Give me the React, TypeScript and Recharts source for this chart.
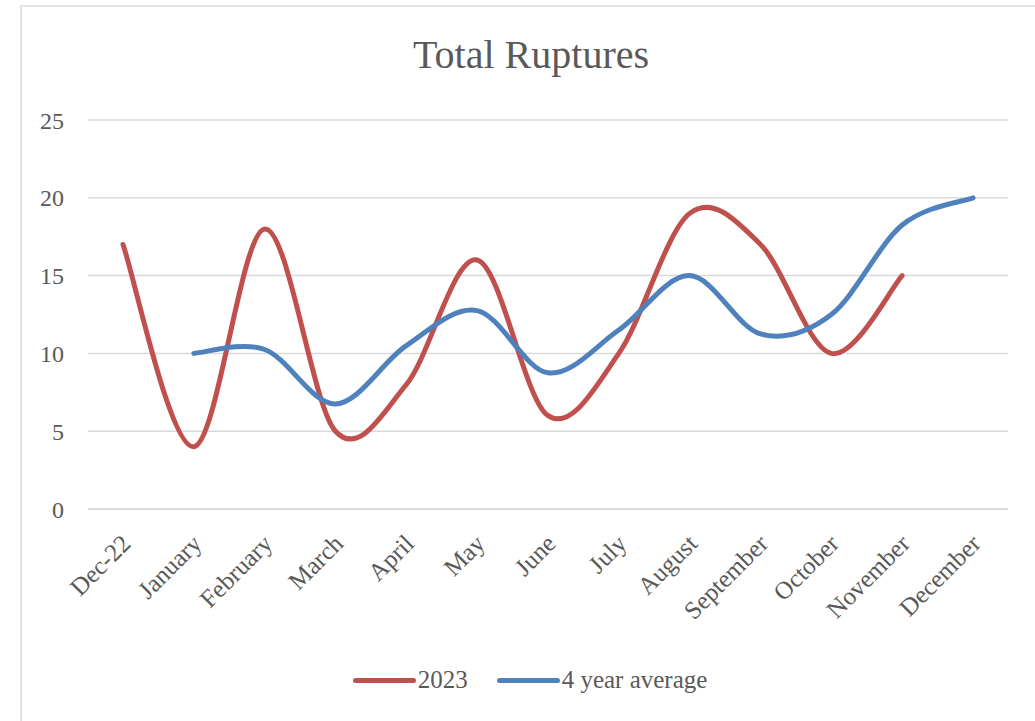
import React from 'react';
import { LineChart, Line, XAxis, YAxis, CartesianGrid, Legend } from 'recharts';

const months = ['Dec-22', 'January', 'February', 'March', 'April', 'May', 'June', 'July', 'August', 'September', 'October', 'November', 'December'];
const ruptures2023 = [17, 4, 18, 5, 8, 16, 6, 10, 19, 17, 10, 15, null];
const fourYearAvg = [null, 10, 10.25, 6.75, 10.5, 12.75, 8.75, 11.5, 15, 11.25, 12.5, 18.25, 20];
const yTicks = [0, 5, 10, 15, 20, 25];

const data = months.map((m, i) => ({ month: m, y2023: ruptures2023[i], avg: fourYearAvg[i] }));

const FONT = '"Liberation Serif", "Times New Roman", serif';
const TEXT = '#595959';
const RED = '#C0504D';
const BLUE = '#4F81BD';

// excel-style smoothing (catmull-rom bezier through the points)
const excelSmooth = (context: any) => {
    let pts: number[][] = [];
    return {
        areaStart() {},
        areaEnd() {},
        lineStart() { pts = []; },
        lineEnd() {
            const n = pts.length;
            if (!n) return;
            context.moveTo(pts[0][0], pts[0][1]);
            if (n === 1) return;
            for (let i = 0; i < n - 1; i++) {
                const p0 = pts[i - 1] || pts[i];
                const p1 = pts[i];
                const p2 = pts[i + 1];
                const p3 = pts[i + 2] || pts[i + 1];
                context.bezierCurveTo(
                    p1[0] + (p2[0] - p0[0]) / 6, p1[1] + (p2[1] - p0[1]) / 6,
                    p2[0] - (p3[0] - p1[0]) / 6, p2[1] - (p3[1] - p1[1]) / 6,
                    p2[0], p2[1]
                );
            }
        },
        point(x: number, y: number) { pts.push([+x, +y]); },
    };
};

const MonthTick = (props: any) => {
    const { x, y, payload } = props;
    const ax = x + 3;
    const ay = y + 22;
    return (
        <text x={ax} y={ay} dy="0.35em" textAnchor="end" transform={`rotate(-45, ${ax}, ${ay})`}
            fill={TEXT} fontSize={25} fontFamily={FONT}>
            {payload.value}
        </text>
    );
};

const legendText = { fontFamily: FONT, fontSize: 25, color: TEXT };

const LegendContent = () => (
    <div style={{ display: 'flex', alignItems: 'center', justifyContent: 'center', height: 40, paddingLeft: 52, ...legendText }}>
        <span style={{ display: 'inline-block', width: 63, height: 5, borderRadius: 3, background: RED, marginRight: 2 }} />
        <span style={{ ...legendText, marginRight: 29 }}>2023</span>
        <span style={{ display: 'inline-block', width: 63, height: 5, borderRadius: 3, background: BLUE, marginRight: 2 }} />
        <span style={legendText}>4 year average</span>
    </div>
);

export default function App() {
    return (
        <div style={{ position: 'absolute', left: 0, top: 0, width: 1035, height: 721, background: '#fff' }}>
            <div style={{ position: 'absolute', left: 20, top: 5, width: 1015, height: 716,
                borderLeft: '2px solid #e2e2e2', borderTop: '2px solid #e2e2e2' }} />
            <div style={{ position: 'absolute', left: 0, width: 1062, top: 35, textAlign: 'center',
                fontFamily: FONT, fontSize: 40, lineHeight: '39px', color: TEXT }}>
                Total Ruptures
            </div>
            <LineChart width={1035} height={721} data={data} margin={{ top: 120, right: 27, bottom: 21, left: 0 }}>
                <CartesianGrid vertical={false} stroke="#d9d9d9" strokeWidth={1.5} />
                <XAxis dataKey="month" height={151} padding={{ left: 35, right: 35 }} interval={0}
                    axisLine={{ stroke: '#d9d9d9', strokeWidth: 1.5 }} tickLine={false} tick={<MonthTick />} />
                <YAxis width={88} domain={[0, 25]} ticks={yTicks} axisLine={false} tickLine={false}
                    tickSize={0} tickMargin={24} tick={{ fill: TEXT, fontSize: 24, fontFamily: FONT }} />
                <Legend verticalAlign="bottom" height={40} content={<LegendContent />} />
                <Line dataKey="y2023" name="2023" type={excelSmooth as any} stroke={RED} strokeWidth={5}
                    dot={false} activeDot={false} isAnimationActive={false} strokeLinecap="round" />
                <Line dataKey="avg" name="4 year average" type={excelSmooth as any} stroke={BLUE} strokeWidth={5}
                    dot={false} activeDot={false} isAnimationActive={false} strokeLinecap="round" />
            </LineChart>
        </div>
    );
}
